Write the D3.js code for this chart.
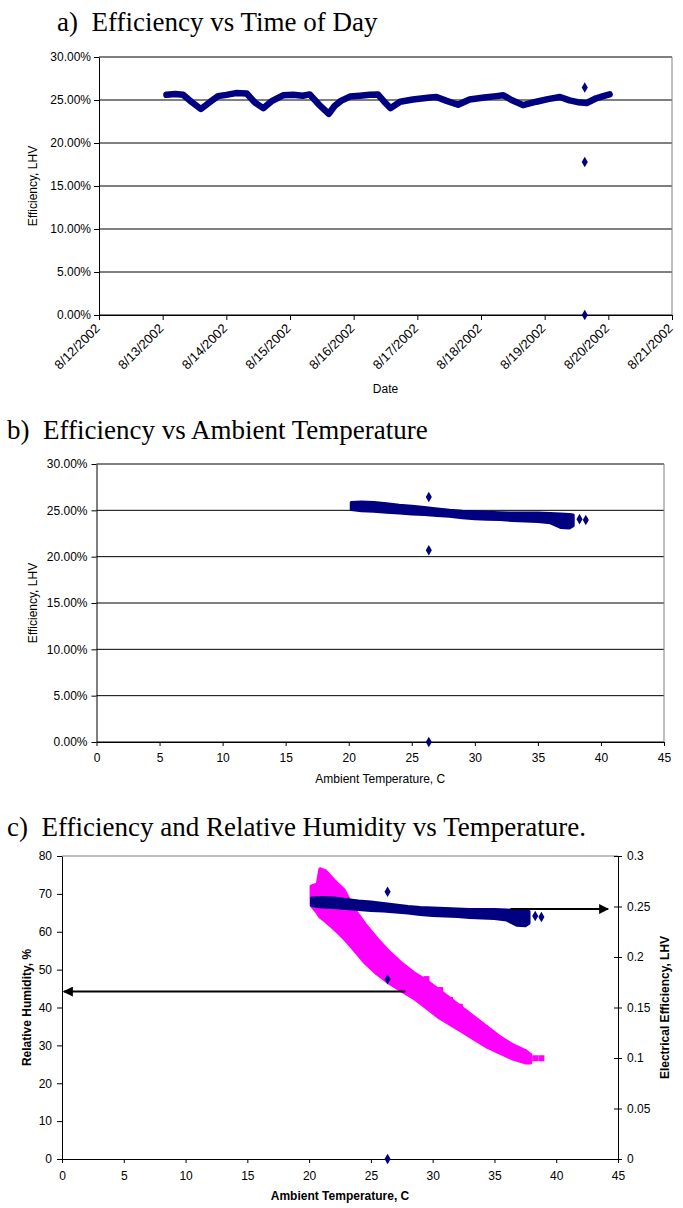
<!DOCTYPE html>
<html><head><meta charset="utf-8">
<script src="https://cdn.jsdelivr.net/npm/d3@7"></script>
<style>
body{margin:0;background:#fff}
svg{display:block}
text{font-family:"Liberation Sans",Arial,sans-serif;}
.title{font-family:"Liberation Serif","Times New Roman",serif;font-size:27px;white-space:pre;}
</style>
</head><body><script>
// ---------- DATA ----------
// chart a: efficiency vs time
const aTime = ["2002-08-13 01:26","2002-08-13 04:48","2002-08-13 07:41","2002-08-13 10:48","2002-08-13 14:24","2002-08-13 18:00","2002-08-13 20:53",
"2002-08-14 00:00","2002-08-14 03:36","2002-08-14 07:41","2002-08-14 10:48","2002-08-14 13:55","2002-08-14 17:17","2002-08-14 21:22",
"2002-08-15 01:12","2002-08-15 04:48","2002-08-15 07:26","2002-08-15 10:48","2002-08-15 14:38","2002-08-15 16:48","2002-08-15 19:12","2002-08-15 22:34",
"2002-08-16 02:24","2002-08-16 06:00","2002-08-16 09:07","2002-08-16 11:31","2002-08-16 13:55","2002-08-16 17:31","2002-08-16 22:19",
"2002-08-17 04:48","2002-08-17 07:12","2002-08-17 11:02","2002-08-17 15:22","2002-08-17 19:41",
"2002-08-18 01:12","2002-08-18 05:46","2002-08-18 08:24","2002-08-18 11:31","2002-08-18 15:50","2002-08-18 20:53",
"2002-08-19 01:12","2002-08-19 05:46","2002-08-19 09:22","2002-08-19 12:29","2002-08-19 15:50","2002-08-19 19:26","2002-08-19 22:05",
"2002-08-20 00:29"];
const aEff = [0.2560,0.2570,0.2560,0.2480,0.2395,0.2480,0.2545,
0.2560,0.2580,0.2575,0.2470,0.2405,0.2490,0.2555,
0.2560,0.2550,0.2565,0.2450,0.2340,0.2430,0.2490,0.2540,
0.2550,0.2560,0.2565,0.2480,0.2405,0.2480,0.2505,
0.2530,0.2535,0.2490,0.2445,0.2505,
0.2530,0.2545,0.2555,0.2500,0.2440,0.2480,
0.2510,0.2535,0.2495,0.2475,0.2465,0.2520,0.2545,
0.2565];
const aOutTime = ["2002-08-19 15:07","2002-08-19 15:07","2002-08-19 15:07"];
const aOutEff = [0.2645, 0.178, 0];
const dateTicks = ["2002-08-12","2002-08-13","2002-08-14","2002-08-15","2002-08-16","2002-08-17","2002-08-18","2002-08-19","2002-08-20","2002-08-21"];
const effTicks = [0,0.05,0.10,0.15,0.20,0.25,0.30];

// charts b & c: efficiency band vs ambient temperature
const bandTemp = [20.2,21,22,23,24,25,26,27,28,29,30,31,32,33,34,35,36,36.8,37.5,37.8];
const effUpper = [0.2585,0.259,0.2585,0.257,0.2555,0.2545,0.253,0.2515,0.250,0.249,0.2485,0.248,0.2475,0.247,0.247,0.247,0.2465,0.246,0.2455,0.245];
const effLower = [0.251,0.2495,0.249,0.248,0.247,0.246,0.2455,0.2445,0.2435,0.242,0.241,0.2405,0.240,0.239,0.2385,0.238,0.2365,0.2315,0.231,0.2335];
const bOutTemp = [26.35,26.35,26.35,38.3,38.8];
const bOutVal = [0.2645,0.207,0,0.2405,0.2395];
const effOutTemp = [26.35,26.35,26.35,38.3,38.8];
const effOutVal = [0.2645,0.178,0,0.2405,0.2395];
const tempTicks = [0,5,10,15,20,25,30,35,40,45];

// chart c: relative humidity band
const rhTemp  = [20.2,20.7,20.9,21.3,22.0,22.8,23.6,24.5,25.5,26.5,27.5,28.5,29.5,30.5,31.5,32.5,33.5,34.5,35.5,36.5,37.5,37.9];
const rhUpper = [72.0,72.5,76.5,76.0,73.5,71.0,66.0,62.0,58.0,54.5,51.5,49.0,47.0,44.5,42.0,39.5,37.0,34.5,32.0,30.0,28.5,27.5];
const rhLower = [67.0,65.0,64.0,63.0,61.0,58.5,55.5,52.0,49.0,46.5,44.5,42.5,40.0,37.5,35.5,33.5,31.5,29.5,28.0,26.5,25.5,25.5];
const rhScTemp = [29.5,30.6,31.4,32.2,38.3,38.8];
const rhScVal  = [47.5,44.6,42.0,40.2,26.6,26.6];
const rhTicks = [0,10,20,30,40,50,60,70,80];
const effTicksC = [0,0.05,0.1,0.15,0.2,0.25,0.3];
// arrows (data units): [temp start, temp end, value]
const arrowRH = [27.8, 0.15, 44.2];
const arrowEff = [36.3, 44.2, 0.2475];

// ---------- DRAW ----------
const NAVY="#000080", MAG="#ff00ff", GRAY="#808080";
const svg=d3.select("body").append("svg").attr("width",683).attr("height",1208);
const parse=d3.timeParse("%Y-%m-%d %H:%M");
const parseD=d3.timeParse("%Y-%m-%d");
const diamond=d3.symbol().type(d3.symbolDiamond).size(32);

function styleAxis(g,size,bold){
  g.selectAll("text").attr("font-size",size).attr("fill","#000").attr("font-family","Liberation Sans, Arial, sans-serif").attr("font-weight",bold?"bold":"normal");
  g.selectAll("line").attr("stroke","#000");
  g.select(".domain").attr("stroke","#000");
}

// ===== chart a =====
svg.append("text").attr("class","title").attr("x",57).attr("y",31).text("a)  Efficiency vs Time of Day");
const ax=d3.scaleTime().domain([parseD(dateTicks[0]),parseD(dateTicks[dateTicks.length-1])]).range([99,672]);
const ay=d3.scaleLinear().domain([0,0.30]).range([315,57]);
const ga=svg.append("g");
ga.selectAll("line.grid").data(effTicks).join("line").attr("class","grid")
  .attr("x1",ax.range()[0]).attr("x2",ax.range()[1]).attr("y1",d=>ay(d)).attr("y2",d=>ay(d)).attr("stroke","#000");
ga.append("line").attr("x1",ax.range()[1]).attr("x2",ax.range()[1]).attr("y1",ay(0.30)).attr("y2",ay(0)).attr("stroke",GRAY);
const aLeft=ga.append("g").attr("transform",`translate(${ax.range()[0]},0)`)
  .call(d3.axisLeft(ay).tickValues(effTicks).tickFormat(d3.format(".2%")).tickSize(5).tickSizeOuter(0).tickPadding(3));
styleAxis(aLeft,12);
const aBot=ga.append("g").attr("transform",`translate(0,${ay(0)})`)
  .call(d3.axisBottom(ax).tickValues(dateTicks.map(parseD)).tickFormat(d3.timeFormat("%-m/%-d/%Y")).tickSize(5).tickSizeOuter(0));
styleAxis(aBot,13);
aBot.selectAll("text").attr("y",0).attr("x",0).attr("dy","0.35em").attr("text-anchor","end").attr("transform","translate(-2,11) rotate(-45)");
ga.append("path").datum(aTime.map((t,i)=>[parse(t),aEff[i]]))
  .attr("d",d3.line().x(d=>ax(d[0])).y(d=>ay(d[1])))
  .attr("fill","none").attr("stroke",NAVY).attr("stroke-width",6.5).attr("stroke-linejoin","round").attr("stroke-linecap","round");
ga.selectAll("path.out").data(aOutTime.map((t,i)=>[parse(t),aOutEff[i]])).join("path").attr("class","out")
  .attr("d",diamond).attr("transform",d=>`translate(${ax(d[0])},${ay(d[1])})`).attr("fill",NAVY);
ga.append("text").attr("x",(ax.range()[0]+ax.range()[1])/2).attr("y",393).attr("text-anchor","middle").attr("font-size",12).text("Date");
ga.append("text").attr("transform",`translate(37,${(ay(0)+ay(0.3))/2}) rotate(-90)`).attr("text-anchor","middle").attr("font-size",12).text("Efficiency, LHV");

// ===== chart b =====
svg.append("text").attr("class","title").attr("x",7).attr("y",439).text("b)  Efficiency vs Ambient Temperature");
const bx=d3.scaleLinear().domain([0,45]).range([96.5,664]);
const by=d3.scaleLinear().domain([0,0.30]).range([742,464]);
const gb=svg.append("g");
gb.selectAll("line.grid").data(effTicks).join("line").attr("class","grid")
  .attr("x1",bx.range()[0]).attr("x2",bx.range()[1]).attr("y1",d=>by(d)).attr("y2",d=>by(d)).attr("stroke","#000");
gb.append("line").attr("x1",bx.range()[1]).attr("x2",bx.range()[1]).attr("y1",by(0.30)).attr("y2",by(0)).attr("stroke",GRAY);
const bLeft=gb.append("g").attr("transform",`translate(${bx.range()[0]},0)`)
  .call(d3.axisLeft(by).tickValues(effTicks).tickFormat(d3.format(".2%")).tickSize(5).tickSizeOuter(0).tickPadding(4));
styleAxis(bLeft,12);
const bBot=gb.append("g").attr("transform",`translate(0,${by(0)})`)
  .call(d3.axisBottom(bx).tickValues(tempTicks).tickFormat(d3.format("d")).tickSize(4).tickSizeOuter(0).tickPadding(7));
styleAxis(bBot,12);
const bandB=bandTemp.map((t,i)=>({t,u:effUpper[i],l:effLower[i]}));
gb.append("path").datum(bandB)
  .attr("d",d3.area().x(d=>bx(d.t)).y0(d=>by(d.l)).y1(d=>by(d.u)))
  .attr("fill",NAVY).attr("stroke",NAVY).attr("stroke-width",3).attr("stroke-linejoin","round");
gb.selectAll("path.out").data(bOutTemp.map((t,i)=>[t,bOutVal[i]])).join("path").attr("class","out")
  .attr("d",diamond).attr("transform",d=>`translate(${bx(d[0])},${by(d[1])})`).attr("fill",NAVY);
gb.append("text").attr("x",(bx.range()[0]+bx.range()[1])/2).attr("y",783).attr("text-anchor","middle").attr("font-size",12).text("Ambient Temperature, C");
gb.append("text").attr("transform",`translate(37,${(by(0)+by(0.3))/2}) rotate(-90)`).attr("text-anchor","middle").attr("font-size",12).text("Efficiency, LHV");

// ===== chart c =====
svg.append("text").attr("class","title").attr("x",7).attr("y",836).text("c)  Efficiency and Relative Humidity vs Temperature.");
const cx=d3.scaleLinear().domain([0,45]).range([62,618]);
const cyL=d3.scaleLinear().domain([0,80]).range([1159,856]);
const cyR=d3.scaleLinear().domain([0,0.3]).range([1159,856]);
const gc=svg.append("g");
gc.append("line").attr("x1",cx.range()[0]).attr("x2",cx.range()[1]).attr("y1",cyL(80)).attr("y2",cyL(80)).attr("stroke",GRAY);
const cLeft=gc.append("g").attr("transform",`translate(${cx.range()[0]},0)`)
  .call(d3.axisLeft(cyL).tickValues(rhTicks).tickFormat(d3.format("d")).tickSize(5).tickSizeOuter(0).tickPadding(5));
styleAxis(cLeft,12);
const cRight=gc.append("g").attr("transform",`translate(${cx.range()[1]},0)`)
  .call(d3.axisRight(cyR).tickValues(effTicksC).tickFormat(d=>d===0?"0":String(+d.toFixed(2))).tickSize(4).tickSizeOuter(0).tickPadding(5));
styleAxis(cRight,12);
cRight.selectAll(".tick line").attr("x1",-4);
const cBot=gc.append("g").attr("transform",`translate(0,${cyL(0)})`)
  .call(d3.axisBottom(cx).tickValues(tempTicks).tickFormat(d3.format("d")).tickSize(4).tickSizeOuter(0).tickPadding(8));
styleAxis(cBot,12);
// RH band
const bandRH=rhTemp.map((t,i)=>({t,u:rhUpper[i],l:rhLower[i]}));
gc.append("path").datum(bandRH)
  .attr("d",d3.area().x(d=>cx(d.t)).y0(d=>cyL(d.l)).y1(d=>cyL(d.u)))
  .attr("fill",MAG).attr("stroke",MAG).attr("stroke-width",4).attr("stroke-linejoin","round");
gc.selectAll("rect.sc").data(rhScTemp.map((t,i)=>[t,rhScVal[i]])).join("rect").attr("class","sc")
  .attr("x",d=>cx(d[0])-3).attr("y",d=>cyL(d[1])-3).attr("width",6).attr("height",6).attr("fill",MAG);
// efficiency band
gc.append("path").datum(bandB)
  .attr("d",d3.area().x(d=>cx(d.t)).y0(d=>cyR(d.l)).y1(d=>cyR(d.u)))
  .attr("fill",NAVY).attr("stroke",NAVY).attr("stroke-width",3).attr("stroke-linejoin","round");
gc.selectAll("path.out").data(effOutTemp.map((t,i)=>[t,effOutVal[i]])).join("path").attr("class","out")
  .attr("d",diamond).attr("transform",d=>`translate(${cx(d[0])},${cyR(d[1])})`).attr("fill",NAVY);
// arrows
const defs=svg.append("defs");
defs.append("marker").attr("id","ah").attr("viewBox","0 0 10 10").attr("refX",9).attr("refY",5)
  .attr("markerWidth",5).attr("markerHeight",5).attr("markerUnits","strokeWidth").attr("orient","auto")
  .append("path").attr("d","M0,0 L10,5 L0,10 z").attr("fill","#000");
gc.append("line").attr("x1",cx(arrowRH[0])).attr("x2",cx(arrowRH[1])).attr("y1",cyL(arrowRH[2])).attr("y2",cyL(arrowRH[2]))
  .attr("stroke","#000").attr("stroke-width",2).attr("marker-end","url(#ah)");
gc.append("line").attr("x1",cx(arrowEff[0])).attr("x2",cx(arrowEff[1])).attr("y1",cyR(arrowEff[2])).attr("y2",cyR(arrowEff[2]))
  .attr("stroke","#000").attr("stroke-width",2).attr("marker-end","url(#ah)");
gc.append("text").attr("x",(cx.range()[0]+cx.range()[1])/2).attr("y",1200).attr("text-anchor","middle").attr("font-size",12).attr("font-weight","bold").text("Ambient Temperature, C");
gc.append("text").attr("transform",`translate(31,${(cyL(0)+cyL(80))/2}) rotate(-90)`).attr("text-anchor","middle").attr("font-size",12).attr("font-weight","bold").text("Relative Humidity, %");
gc.append("text").attr("transform",`translate(669,${(cyL(0)+cyL(80))/2}) rotate(-90)`).attr("text-anchor","middle").attr("font-size",12).attr("font-weight","bold").text("Electrical Efficiency, LHV");
</script></body></html>
